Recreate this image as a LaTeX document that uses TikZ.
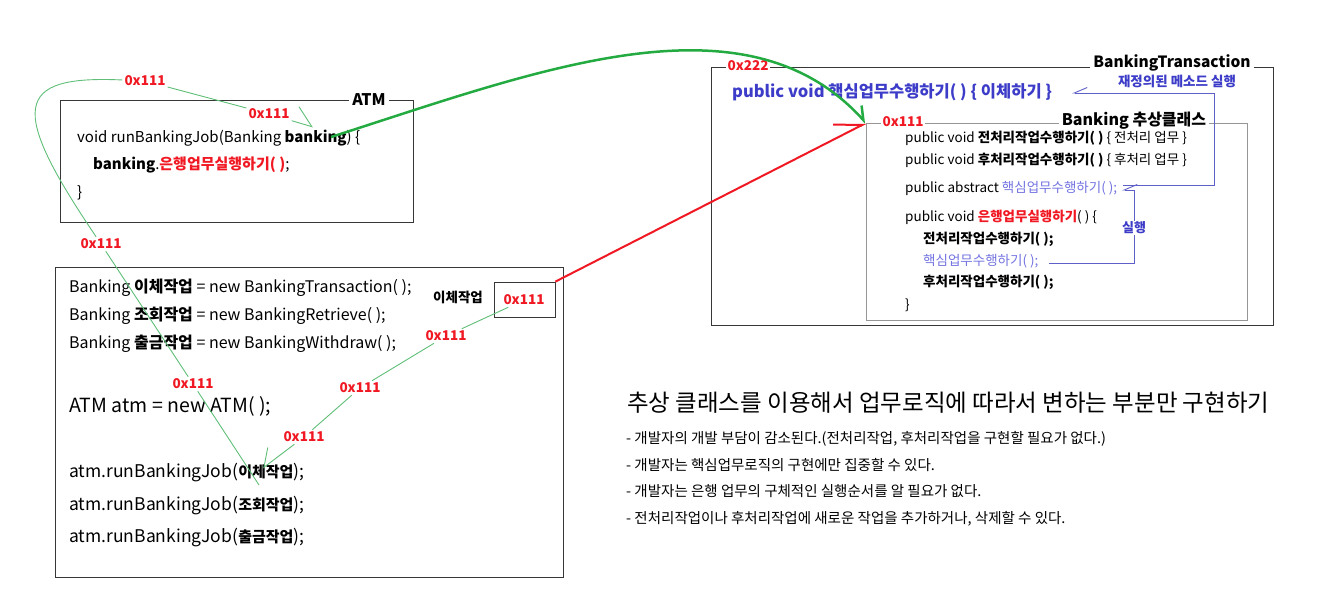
\documentclass[tikz,border=0pt]{standalone}
\usepackage{fontspec}
\setmainfont{Noto Sans CJK KR}
\usetikzlibrary{arrows.meta,calc}

\definecolor{addrred}{RGB}{240,25,35}
\definecolor{ovrblue}{RGB}{60,60,200}
\definecolor{coreblue}{RGB}{115,115,225}
\definecolor{linkblue}{RGB}{95,95,200}
\definecolor{passgreen}{RGB}{35,170,65}
\definecolor{refgreen}{RGB}{95,190,120}
\definecolor{framegray}{RGB}{55,55,55}
\definecolor{innergray}{RGB}{150,150,150}

\newcommand{\argkw}[1]{{\fontsize{15}{15}\selectfont\bfseries #1}}

\tikzset{
	fs/.style={font=\fontsize{#1}{#1}\selectfont},
	codeline/.style={anchor=west, inner sep=0pt, text height=.75em, text depth=.2em, fs=#1},
	codeline/.default=15,
	boxtitle/.style={fill=white, inner sep=3pt, font=\fontsize{16}{16}\selectfont\bfseries},
	addr/.style={fill=white, inner sep=2pt, text=addrred, font=\fontsize{13.5}{13.5}\selectfont\bfseries},
	reflink/.style={draw=refgreen, line width=.9pt},
	bluelink/.style={draw=linkblue, line width=.9pt, -{Straight Barb[harpoon,swap,length=13pt,width=11pt]}},
}

\begin{document}
\begin{tikzpicture}[x=1pt,y=-1pt]
	\useasboundingbox (0,0) rectangle (1319,613);
	
	% ATM
	\draw[framegray, line width=1pt] (60,100) rectangle (413,222);
	\node[boxtitle] (atm) at (369,100) {ATM};
	\node[codeline] (runjob) at (77,140) {void runBankingJob(Banking \textbf{banking}) \{};
	\node[codeline] (callrun) at (93,167) {\textbf{banking}.\textcolor{addrred}{\textbf{은행업무실행하기( )}};};
	\node[codeline] (runend) at (77,195) {\}};
	\coordinate (bparam) at (331,137);
	\coordinate (bhead) at (313,127);
	
	% main
	\draw[framegray, line width=1pt] (55,267) rectangle (563,577);
	\node[codeline=16] (newtr) at (69,290) {Banking \textbf{이체작업} = new BankingTransaction( );};
	\node[codeline=16] (newre) at (69,318) {Banking \textbf{조회작업} = new BankingRetrieve( );};
	\node[codeline=16] (newwd) at (69,346) {Banking \textbf{출금작업} = new BankingWithdraw( );};
	\node[codeline=19.5] (newatm) at (69,410) {ATM atm = new ATM( );};
	\node[codeline=17.5] (jobtr) at (69,475) {atm.runBankingJob(\argkw{이체작업});};
	\node[codeline=17.5] (jobre) at (69,508) {atm.runBankingJob(\argkw{조회작업});};
	\node[codeline=17.5] (jobwd) at (69,540) {atm.runBankingJob(\argkw{출금작업});};
	\node[draw=framegray, line width=.8pt, minimum width=61pt, minimum height=35pt] (varbox) at (524.5,299.5) {};
	\node[codeline=13.5] (varname) at (433,300) {\textbf{이체작업}};
	\node[addr] (varval) at (524,300) {0x111};
	\coordinate (argtr) at (263,468);
	\coordinate (argpass) at (259,485);
	
	% BankingTransaction
	\draw[framegray, line width=1pt] (711,67) rectangle (1273,325);
	\node[boxtitle, font=\fontsize{15.5}{15.5}\selectfont\bfseries] (bt) at (1172,63) {BankingTransaction};
	\node[addr] (addr222) at (748,66) {0x222};
	\node[codeline=16.5] (override) at (732,95) {\textcolor{ovrblue}{\bfseries public void 핵심업무수행하기( ) \{ 이체하기 \}}};
	
	% Banking 추상클래스
	\node[draw=innergray, line width=1pt, minimum width=381pt, minimum height=197pt, anchor=north west] (absbox) at (866,123) {};
	\node[boxtitle] (abst) at (1134,121) {Banking 추상클래스};
	\node[addr] (addr111) at (903,122) {0x111};
	\node[codeline=13.5] (pre) at (905,140) {public void \textbf{전처리작업수행하기( )} \{ 전처리 업무 \}};
	\node[codeline=13.5] (post) at (905,162) {public void \textbf{후처리작업수행하기( )} \{ 후처리 업무 \}};
	\node[codeline=13.5] (absdecl) at (905,190) {public abstract \textcolor{coreblue}{핵심업무수행하기( );}};
	\node[codeline=13.5] (tmpl) at (905,219) {public void \textcolor{addrred}{\textbf{은행업무실행하기}}( ) \{};
	\node[codeline=13.5] (callpre) at (923,241) {\textbf{전처리작업수행하기( );}};
	\node[codeline=13.5] (callcore) at (923,263) {\textcolor{coreblue}{핵심업무수행하기( );}};
	\node[codeline=13.5] (callpost) at (923,284) {\textbf{후처리작업수행하기( );}};
	\node[codeline=13.5] (tmplend) at (905,307) {\}};
	
	% overriding and call
	\coordinate (ovrtip) at (1072,93);
	\coordinate (absout) at (1123,185);
	\coordinate (abstip) at (1122,190);
	\coordinate (coreout) at (1049,263);
	\draw[bluelink] (absout) -| ($(ovrtip)+(142,0)$) -- (ovrtip);
	\node[text=ovrblue, font=\fontsize{13.5}{13.5}\selectfont\bfseries] (ovrnote) at (1177,81) {재정의된 메소드 실행};
	\draw[bluelink] (coreout) -| ($(abstip)+(12,0)$) -- (abstip);
	\node[fill=white, inner sep=1pt, text=ovrblue, font=\fontsize{13}{13}\selectfont\bfseries] (runnote) at (1134,228) {실행};
	
	% references
	\draw[addrred, line width=2pt, -{Straight Barb[harpoon,length=26pt,width=27pt]}] (varbox.north east) -- (absbox.north west);
	\draw[passgreen, line width=2.5pt, -{Straight Barb[harpoon,length=12pt,width=17pt]}] (bparam) .. controls (540,70) and (745,-10) .. (absbox.north west);
	
	\node[addr] (r1) at (446,336) {0x111};
	\node[addr] (r2) at (360,388) {0x111};
	\node[addr] (r3) at (304,437) {0x111};
	\draw[reflink, -{Straight Barb[harpoon,swap,length=15pt,width=27pt]}] (varval) -- (r1) -- (r2) -- (r3) -- (argtr);
	
	\node[addr] (r4) at (193,384) {0x111};
	\node[addr] (r5) at (101,244) {0x111};
	\node[addr] (r6) at (145,81) {0x111};
	\node[addr] (r7) at (269,114) {0x111};
	\draw[reflink, -{Straight Barb[harpoon,length=18pt,width=31pt]}] (argpass) -- (r4) -- (r5) .. controls +(-92,-136) and +(-132,-6) .. (r6) -- (r7) -- (bhead);
	
	% summary
	\node[codeline=23.5] (sumtitle) at (627,409) {추상 클래스를 이용해서 업무로직에 따라서 변하는 부분만 구현하기};
	\node[codeline=14.5] (pt1) at (626,441) {- 개발자의 개발 부담이 감소된다.(전처리작업, 후처리작업을 구현할 필요가 없다.)};
	\node[codeline=14.5] (pt2) at (626,468) {- 개발자는 핵심업무로직의 구현에만 집중할 수 있다.};
	\node[codeline=14.5] (pt3) at (626,494) {- 개발자는 은행 업무의 구체적인 실행순서를 알 필요가 없다.};
	\node[codeline=14.5] (pt4) at (626,521) {- 전처리작업이나 후처리작업에 새로운 작업을 추가하거나, 삭제할 수 있다.};
\end{tikzpicture}
\end{document}
